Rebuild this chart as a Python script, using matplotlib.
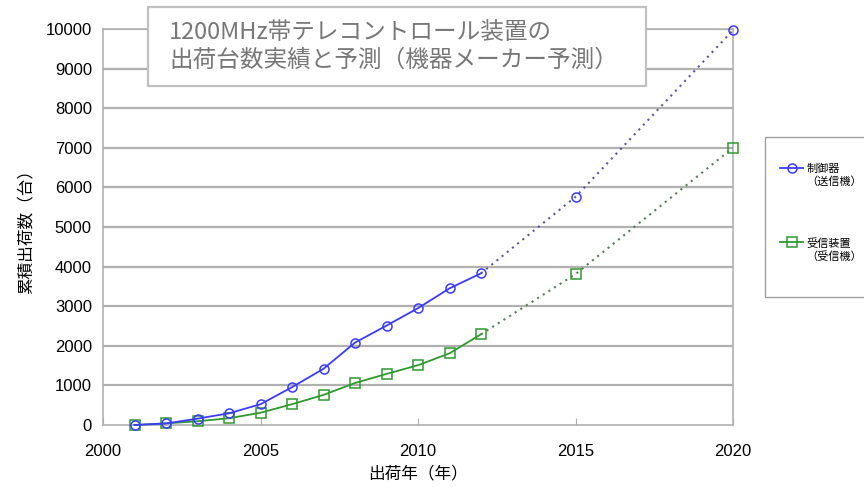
import matplotlib
matplotlib.use("Agg")
import matplotlib.pyplot as plt
import numpy as np
from matplotlib.patches import Rectangle
from matplotlib.legend_handler import HandlerLine2D

plt.rcParams['font.family'] = ['Liberation Sans', 'Noto Sans CJK JP', 'DejaVu Sans']

years_actual = [2001, 2002, 2003, 2004, 2005, 2006, 2007, 2008, 2009, 2010, 2011, 2012]
tx_actual = [0, 40, 160, 295, 525, 955, 1420, 2080, 2510, 2950, 3450, 3830]
rx_actual = [0, 40, 95, 170, 310, 525, 760, 1060, 1290, 1510, 1810, 2290]
years_fc = [2012, 2015, 2020]
tx_fc = [3830, 5760, 9970]
rx_fc = [2290, 3810, 7000]
labels = ["制御器\n（送信機）", "受信装置\n（受信機）"]
title = "1200MHz帯テレコントロール装置の\n出荷台数実績と予測（機器メーカー予測）"
xlabel = "出荷年（年）"
ylabel = "累積出荷数（台）"

W, H = 864, 487
fig = plt.figure(figsize=(W/100, H/100), dpi=100)
ax = fig.add_axes([103/W, 1-425/H, (733-103)/W, (425-29)/H])

grid_c = '#b0b0b0'
ax.set_xlim(2000, 2020)
ax.set_ylim(0, 10000)
ax.set_xticks(range(2000, 2021, 5))
ax.set_yticks(range(0, 10001, 1000))
for y in range(1000, 10001, 1000):
    ax.axhline(y, color=grid_c, lw=1.6, zorder=1)
for s in ax.spines.values():
    s.set_color(grid_c)
    s.set_linewidth(1.2)
ax.tick_params(axis='x', direction='in', length=5, color=grid_c, labelsize=12, pad=14)
ax.tick_params(axis='y', length=0, labelsize=12, pad=8)

blue = '#3a3aff'
green = '#2e9a2e'
l1, = ax.plot(years_actual, tx_actual, color=blue, lw=1.3, marker='o', ms=6.5,
              mfc='none', mec=blue, mew=1.1, zorder=4, clip_on=False)
l2, = ax.plot(years_actual, rx_actual, color=green, lw=1.3, marker='s', ms=6.5,
              mfc='none', mec=green, mew=1.1, zorder=3, clip_on=False)
ax.plot(years_fc, tx_fc, color='#5a5a9a', lw=1.5, ls=(0, (1, 2.2)), zorder=3)
ax.plot(years_fc[1:], tx_fc[1:], ls='none', marker='o', ms=6.5, mfc='none',
        mec=blue, mew=1.1, zorder=4, clip_on=False)
ax.plot(years_fc, rx_fc, color='#5a7a5a', lw=1.5, ls=(0, (1, 2.2)), zorder=3)
ax.plot(years_fc[1:], rx_fc[1:], ls='none', marker='s', ms=6.5, mfc='none',
        mec=green, mew=1.1, zorder=4, clip_on=False)

ax.set_xlabel(xlabel, fontsize=12, family=['Noto Sans CJK JP'], labelpad=4)
ax.set_ylabel(ylabel, fontsize=12, family=['Noto Sans CJK JP'], labelpad=8)

# title box
rect = Rectangle((148/W, 1-86/H), (646-148)/W, (86-7)/H, transform=fig.transFigure,
                 facecolor='white', edgecolor='#c0c0c0', lw=1.6, zorder=10)
fig.patches.append(rect)
fig.text(169/W, 1-46/H, title, fontsize=17, color='#777777', ha='left', va='center',
         family=['Noto Sans CJK JP', 'DejaVu Sans'], linespacing=1.25, zorder=11)

# legend frame
lrect = Rectangle((765/W, 1-297/H), 120/W, (297-137)/H, transform=fig.transFigure,
                  facecolor='white', edgecolor='#a0a0a0', lw=1.0, zorder=1)
fig.patches.append(lrect)


class TopHandler(HandlerLine2D):
    def create_artists(self, legend, orig_handle, xdescent, ydescent, width,
                       height, fontsize, trans):
        arts = super().create_artists(legend, orig_handle, xdescent, ydescent,
                                      width, height, fontsize, trans)
        for a in arts:
            a.set_ydata(np.asarray(a.get_ydata(), dtype=float) + fontsize * 0.72)
        return arts


leg = fig.legend([l1, l2], labels, loc='upper left', bbox_to_anchor=(780/W, 1-164/H),
                 frameon=False,
                 prop={'family': ['Noto Sans CJK JP'], 'size': 8},
                 handlelength=2.1, handletextpad=0.25, labelspacing=4.6,
                 borderpad=0, borderaxespad=0,
                 handler_map={l1: TopHandler(), l2: TopHandler()})
for t in leg.get_texts():
    t.set_linespacing(1.25)

fig.savefig('out.png', dpi=100)
